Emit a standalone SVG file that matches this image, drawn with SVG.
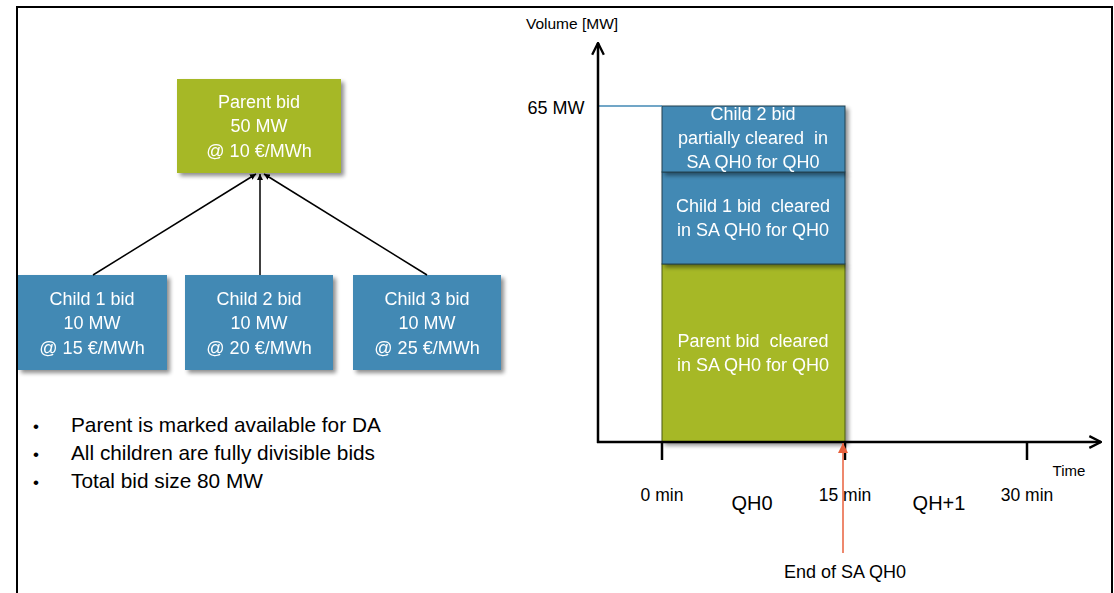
<svg xmlns="http://www.w3.org/2000/svg" width="1114" height="593" viewBox="0 0 1114 593">
<defs>
<filter id="sh" x="-10%" y="-10%" width="130%" height="130%">
<feGaussianBlur in="SourceAlpha" stdDeviation="2"/>
<feOffset dx="3" dy="3" result="b"/>
<feComponentTransfer><feFuncA type="linear" slope="0.45"/></feComponentTransfer>
<feMerge><feMergeNode/><feMergeNode in="SourceGraphic"/></feMerge>
</filter>
<marker id="ah" viewBox="0 0 10 10" refX="10" refY="5" markerWidth="6" markerHeight="6" orient="auto-start-reverse" markerUnits="userSpaceOnUse">
<path d="M0,0 L10,5 L0,10 z" fill="#000"/>
</marker>
<marker id="ax" viewBox="0 0 12 12" refX="11" refY="6" markerWidth="14" markerHeight="14" orient="auto" markerUnits="userSpaceOnUse">
<path d="M1,1 L11,6 L1,11" fill="none" stroke="#000" stroke-width="2"/>
</marker>
<marker id="ra" viewBox="0 0 10 10" refX="10" refY="5" markerWidth="10" markerHeight="10" orient="auto" markerUnits="userSpaceOnUse">
<path d="M0,0 L10,5 L0,10 z" fill="#E8603C"/>
</marker>
</defs>
<style>
text{font-family:"Liberation Sans",Arial,sans-serif;white-space:pre}
.w{fill:#fff;font-size:18px;text-anchor:middle}
.k{fill:#000}
.c{text-anchor:middle}
.green{fill:#A6B828}
.blue{fill:#4289B4}
</style>
<rect x="0" y="0" width="1114" height="593" fill="#fff"/>
<path d="M17,593 L17,7 L1112,7 L1112,593" fill="none" stroke="#000" stroke-width="2"/>
<g id="parent" filter="url(#sh)">
<rect x="177" y="79" width="164" height="94" class="green"/>
<text class="w"><tspan x="259" y="108">Parent bid</tspan><tspan x="259" y="132">50 MW</tspan><tspan x="259" y="157">@ 10 €/MWh</tspan></text>
</g>
<g id="child1" filter="url(#sh)">
<rect x="18" y="275" width="149" height="95" class="blue"/>
<text class="w"><tspan x="92" y="305">Child 1 bid</tspan><tspan x="92" y="329">10 MW</tspan><tspan x="92" y="354">@ 15 €/MWh</tspan></text>
</g>
<g id="child2" filter="url(#sh)">
<rect x="185" y="275" width="148" height="95" class="blue"/>
<text class="w"><tspan x="259" y="305">Child 2 bid</tspan><tspan x="259" y="329">10 MW</tspan><tspan x="259" y="354">@ 20 €/MWh</tspan></text>
</g>
<g id="child3" filter="url(#sh)">
<rect x="353" y="275" width="148" height="95" class="blue"/>
<text class="w"><tspan x="427" y="305">Child 3 bid</tspan><tspan x="427" y="329">10 MW</tspan><tspan x="427" y="354">@ 25 €/MWh</tspan></text>
</g>
<g id="connectors" stroke="#000" stroke-width="1.5" fill="none">
<line x1="93" y1="275" x2="256" y2="174" marker-end="url(#ah)"/>
<line x1="260" y1="275" x2="260" y2="174" marker-end="url(#ah)"/>
<line x1="427" y1="275" x2="264" y2="174" marker-end="url(#ah)"/>
</g>
<g id="notes" class="k">
<text x="33" y="432" font-size="17">•</text><text x="71" y="432" font-size="20.8">Parent is marked available for DA</text>
<text x="33" y="460" font-size="17">•</text><text x="71" y="460" font-size="20.8">All children are fully divisible bids</text>
<text x="33" y="488" font-size="17">•</text><text x="71" y="488" font-size="20.8">Total bid size 80 MW</text>
</g>
<g id="chart">
<g id="bar-parent" filter="url(#sh)">
<rect x="662" y="264" width="183" height="178" class="green" stroke="#4a5a10" stroke-width="1"/>
<text class="w"><tspan x="753" y="347">Parent bid  cleared</tspan><tspan x="753" y="371">in SA QH0 for QH0</tspan></text>
</g>
<g id="bar-child1" filter="url(#sh)">
<rect x="662" y="172" width="183" height="92" class="blue" stroke="#1f4050" stroke-width="1"/>
<text class="w"><tspan x="753" y="212">Child 1 bid  cleared</tspan><tspan x="753" y="236">in SA QH0 for QH0</tspan></text>
</g>
<g id="bar-child2" filter="url(#sh)">
<rect x="662" y="106" width="183" height="66" class="blue" stroke="#1f4050" stroke-width="1"/>
<text class="w"><tspan x="753" y="120">Child 2 bid</tspan><tspan x="753" y="144">partially cleared  in</tspan><tspan x="753" y="168">SA QH0 for QH0</tspan></text>
</g>
<line x1="598" y1="106" x2="662" y2="106" stroke="#4289B4" stroke-width="1.5"/>
<line x1="598" y1="443" x2="598" y2="43" stroke="#000" stroke-width="2.5" marker-end="url(#ax)"/>
<line x1="597" y1="442" x2="1101" y2="442" stroke="#000" stroke-width="2.5" marker-end="url(#ax)"/>
<g stroke="#000" stroke-width="2.5">
<line x1="662" y1="442" x2="662" y2="460"/>
<line x1="845" y1="442" x2="845" y2="460"/>
<line x1="1027" y1="442" x2="1027" y2="460"/>
</g>
<line x1="843" y1="553" x2="843" y2="443" stroke="#E8603C" stroke-width="1.5" marker-end="url(#ra)"/>
<text x="572" y="29" font-size="15.5" class="c">Volume [MW]</text>
<text x="556" y="114" font-size="18" class="c">65 MW</text>
<text x="662" y="501" font-size="17.5" class="c">0 min</text>
<text x="752" y="510" font-size="20" class="c">QH0</text>
<text x="845" y="501" font-size="17.5" class="c">15 min</text>
<text x="939" y="510" font-size="20" class="c">QH+1</text>
<text x="1027" y="501" font-size="17.5" class="c">30 min</text>
<text x="1069" y="476" font-size="15" class="c">Time</text>
<text x="845" y="578" font-size="18" class="c">End of SA QH0</text>
</g>
</svg>
